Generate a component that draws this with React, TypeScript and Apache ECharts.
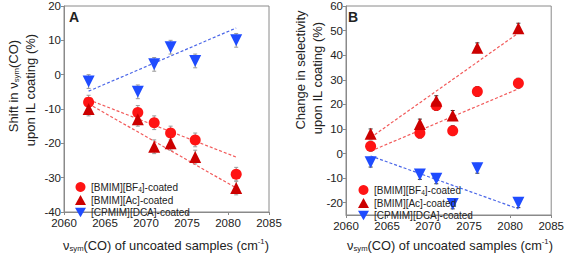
import React, { useEffect, useRef } from "react";
import * as echarts from "echarts";

const xs = [2063, 2069, 2071, 2073, 2076, 2081];
const shiftBF4 = [-8, -11, -14, -17, -19, -29];
const shiftAc = [-10, -13, -21, -20, -24, -33];
const shiftDCA = [-2, -5, 3, 8, 4, 10];
const shiftErr = [2, 2, 2, 2, 2, 2];
const selBF4 = [3, 8.3, 19.5, 9.3, 25.2, 28.6];
const selAc = [8, 12, 21.5, 15.5, 43, 51];
const selDCA = [-3.5, -8.5, -10.3, -20.5, -6, -20];
const selErr = [2, 2, 2, 2, 2, 2];

const trendX = [2063, 2081];
const trendShiftBF4 = [-7.3, -24];
const trendShiftAc = [-8.5, -33];
const trendShiftDCA = [-4.8, 13.6];
const trendSelBF4 = [1, 26.3];
const trendSelAc = [6.5, 49];
const trendSelDCA = [-1, -22.5];

const yTicksB = [-20, -10, 0, 10, 20, 30, 40, 50, 60];

const names = ["[BMIM][BF4]-coated", "[BMIM][Ac]-coated", "[CPMIM][DCA]-coated"];

const FONT = "Liberation Sans, Arial, sans-serif";
const RED = "#ff1414";
const DARKRED = "#cc0000";
const BLUE = "#1f4cff";
const TREND_RED = "#f25a5a";
const TREND_BLUE = "#4a66e8";
const DOWN = "path://M0,0 L10,0 L5,8.66 Z";

function errSeries(idx: number, ys: number[], err: number[], color: string) {
  return {
    type: "custom",
    xAxisIndex: idx,
    yAxisIndex: idx,
    z: 1,
    silent: true,
    data: xs.map((x, i) => [x, ys[i], err[i]]),
    renderItem: (params: any, api: any) => {
      const x = api.value(0);
      const y = api.value(1);
      const e = api.value(2);
      const t = api.coord([x, y + e]);
      const b = api.coord([x, y - e]);
      const st = { stroke: color, lineWidth: 1 };
      return {
        type: "group",
        children: [
          { type: "line", shape: { x1: t[0], y1: t[1], x2: b[0], y2: b[1] }, style: st },
          { type: "line", shape: { x1: t[0] - 2, y1: t[1], x2: t[0] + 2, y2: t[1] }, style: st },
          { type: "line", shape: { x1: b[0] - 2, y1: b[1], x2: b[0] + 2, y2: b[1] }, style: st },
        ],
      };
    },
  };
}

function scatter(idx: number, name: string, ys: number[], symbol: string, color: string, size: number) {
  return {
    type: "scatter",
    name,
    xAxisIndex: idx,
    yAxisIndex: idx,
    symbol,
    symbolSize: size,
    z: 3,
    itemStyle: { color, opacity: 1 },
    data: xs.map((x, i) => [x, ys[i]]),
  };
}

function trend(idx: number, ys: number[], color: string) {
  return {
    type: "line",
    xAxisIndex: idx,
    yAxisIndex: idx,
    symbol: "none",
    silent: true,
    z: 2,
    lineStyle: { color, width: 1.2, type: [3, 2] },
    data: trendX.map((x, i) => [x, ys[i]]),
  };
}

const axisCommon = {
  axisLine: { show: true, onZero: false, lineStyle: { color: "#8a8a8a" } },
  axisTick: { show: true, inside: false, length: 3, lineStyle: { color: "#8a8a8a" } },
  splitLine: { show: false },
  axisLabel: { color: "#222", fontSize: 11.5, fontFamily: FONT, margin: 3, formatter: (v: number) => String(v) },
};

function legend(left: number, top: number) {
  return {
    orient: "vertical",
    left,
    top,
    itemWidth: 11,
    itemHeight: 10,
    itemGap: 1.5,
    data: names,
    selectedMode: false,
    textStyle: {
      fontSize: 10,
      lineHeight: 11,
      fontFamily: FONT,
      color: "#222",
      rich: {
        s: { fontSize: 6.5, lineHeight: 11, fontFamily: FONT, color: "#222", padding: [5, 0, 0, 0] },
      },
    },
    formatter: (n: string) => n.replace("BF4", "BF{s|4}"),
  };
}

function textEl(x: number, y: number, text: string, fontSize: number, rotate: boolean, bold = false) {
  return {
    type: "text",
    x,
    y,
    rotation: rotate ? Math.PI / 2 : 0,
    style: {
      text,
      fontSize,
      fontFamily: FONT,
      fontWeight: bold ? "bold" : "normal",
      fill: "#222",
      align: "center",
      verticalAlign: "middle",
      rich: {
        s: { fontSize: fontSize * 0.6, fontFamily: FONT, fill: "#222", padding: [fontSize * 0.55, 0, 0, 0] },
        p: { fontSize: fontSize * 0.6, fontFamily: FONT, fill: "#222", padding: [0, 0, fontSize * 0.55, 0] },
      },
    },
  };
}

export default function App() {
  const ref = useRef<HTMLDivElement>(null);
  useEffect(() => {
    document.body.style.margin = "0";
    const chart = echarts.init(ref.current!, null, { renderer: "svg" });
    const xAxisBase = { ...axisCommon, axisLabel: { ...axisCommon.axisLabel, margin: 5 } };
    chart.setOption({
      animation: false,
      backgroundColor: "#fff",
      grid: [
        { left: 64, top: 5, width: 205, height: 207, show: true, borderColor: "#8a8a8a", borderWidth: 1 },
        { left: 346, top: 5, width: 208, height: 210, show: true, borderColor: "#8a8a8a", borderWidth: 1 },
      ],
      xAxis: [
        { ...xAxisBase, type: "value", gridIndex: 0, min: 2060, max: 2085, interval: 5 },
        { ...xAxisBase, type: "value", gridIndex: 1, min: 2060, max: 2085, interval: 5 },
      ],
      yAxis: [
        { ...axisCommon, type: "value", gridIndex: 0, min: -40, max: 20, interval: 10 },
        {
          ...axisCommon,
          type: "value",
          gridIndex: 1,
          min: -25,
          max: 60,
          axisTick: { ...axisCommon.axisTick, customValues: yTicksB },
          axisLabel: { ...axisCommon.axisLabel, customValues: yTicksB },
        },
      ],
      legend: [legend(70, 176), legend(353, 179)],
      series: [
        errSeries(0, shiftBF4, shiftErr, "#9a9a9a"),
        errSeries(0, shiftAc, shiftErr, "#9a9a9a"),
        errSeries(0, shiftDCA, shiftErr, "#9a9a9a"),
        trend(0, trendShiftBF4, TREND_RED),
        trend(0, trendShiftAc, TREND_RED),
        trend(0, trendShiftDCA, TREND_BLUE),
        scatter(0, names[0], shiftBF4, "circle", RED, 11),
        scatter(0, names[1], shiftAc, "triangle", DARKRED, 12),
        scatter(0, names[2], shiftDCA, DOWN, BLUE, 12),
        errSeries(1, selBF4, selErr, "#333"),
        errSeries(1, selAc, selErr, "#333"),
        errSeries(1, selDCA, selErr, "#333"),
        trend(1, trendSelBF4, TREND_RED),
        trend(1, trendSelAc, TREND_RED),
        trend(1, trendSelDCA, TREND_BLUE),
        scatter(1, names[0], selBF4, "circle", RED, 11),
        scatter(1, names[1], selAc, "triangle", DARKRED, 12),
        scatter(1, names[2], selDCA, DOWN, BLUE, 12),
      ],
      graphic: [
        textEl(74, 17, "A", 14, false, true),
        textEl(353, 17, "B", 14, false, true),
        textEl(13, 86, "Shift in ν{s|sym}(CO)", 13, true),
        textEl(30, 90, "upon IL coating (%)", 13, true),
        textEl(300, 70, "Change in selectivity", 13, true),
        textEl(317, 78, "upon IL coating (%)", 13, true),
        textEl(166, 245, "ν{s|sym}(CO) of uncoated samples (cm{p|-1})", 12.8, false),
        textEl(450, 245, "ν{s|sym}(CO) of uncoated samples (cm{p|-1})", 12.8, false),
      ],
    });
    return () => chart.dispose();
  }, []);
  return <div ref={ref} style={{ width: 567, height: 256 }} />;
}
